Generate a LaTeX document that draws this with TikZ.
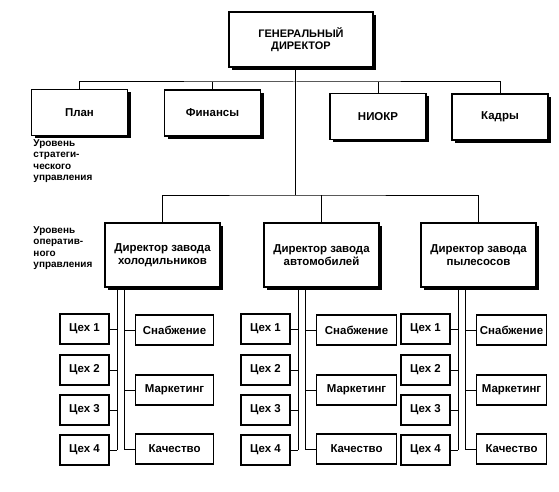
\documentclass[tikz,border=0pt]{standalone}
\usepackage{fontspec}
\setmainfont{Liberation Sans}
\usetikzlibrary{shadows, calc}

\begin{document}
\begin{tikzpicture}[x=1bp, y=-1bp, line width=1pt, line cap=butt, line join=miter,
    unitbox/.style={draw, line width=1.2pt, fill=white, align=center, inner sep=0pt,
        font=\fontsize{11.5}{13.5}\selectfont\bfseries,
        drop shadow={shadow xshift=3bp, shadow yshift=-3bp, opacity=1, fill=black}},
    topbox/.style={unitbox, minimum width=144bp, minimum height=55bp,
        font=\fontsize{11}{12.5}\selectfont\bfseries},
    staffbox/.style={unitbox, minimum width=96bp, minimum height=46bp},
    plantbox/.style={unitbox, minimum width=115bp, minimum height=64bp},
    shopbox/.style={draw, line width=1.1pt, fill=white, inner sep=0pt,
        font=\fontsize{11.5}{13}\selectfont\bfseries, minimum width=49bp, minimum height=30bp},
    servbox/.style={shopbox, minimum width=#1},
    levelnote/.style={anchor=north west, align=left, inner sep=0pt,
        font=\fontsize{10}{11.5}\selectfont\bfseries}]

    % page frame (559 x 492)
    \useasboundingbox (0,0) rectangle (559,492);

    % general director
    \node[topbox] (gd) at (301,39.5) {ГЕНЕРАЛЬНЫЙ\\ДИРЕКТОР};

    % strategic level: staff services
    \node[staffbox] (plan)  at (79.5,112.5) {План};
    \node[staffbox] (fin)   at (212.5,113)  {Финансы};
    \node[staffbox] (niokr) at (378,116.5)  {НИОКР};
    \node[staffbox] (kadry) at (500,117)    {Кадры};

    % upper bus and trunk
    \coordinate (bus) at (295,82);
    \coordinate (trunk) at (295,195);
    \draw (plan.north) |- (bus) -| (kadry.north);
    \draw (fin.north) -- (fin.north |- bus);
    \draw (niokr.north) -- (niokr.north |- bus);
    \draw (gd.south -| trunk) -- (trunk);

    % level notes
    \node[levelnote] (lvlstrat) at (33,139) {Уровень\\стратеги-\\ческого\\управления};
    \node[levelnote] (lvloper)  at (33,226) {Уровень\\оператив-\\ного\\управления};

    % operative level: plant directors
    \node[plantbox] (d1) at (162.5,255) {Директор завода\\холодильников};
    \node[plantbox] (d2) at (321.5,255) {Директор завода\\автомобилей};
    \node[plantbox] (d3) at (478.5,255) {Директор завода\\пылесосов};

    % lower bus
    \draw (d1.north) |- (trunk) -| (d3.north);
    \draw (d2.north) -- (d2.north |- trunk);

    % shops and services under each plant
    % \p = plant, \xl = x of the shop line, \ws = width of service boxes
    \foreach \p/\xl/\ws in {1/117/78bp, 2/298/80bp, 3/458/70bp}{
        \coordinate (la\p) at (\xl,450);
        \coordinate (lb\p) at (\xl+7,449);
        \draw (d\p.south -| la\p) -- (la\p);
        \draw (d\p.south -| lb\p) -- (lb\p);
        % shops
        \foreach \k/\yy in {1/329, 2/370, 3/410, 4/450}{
            \node[shopbox] (c\p-\k) at (\xl-32.5,\yy) {Цех \k};
            \draw (c\p-\k.east) -- (c\p-\k.east -| la\p);
        }
        % services
        \node[servbox=\ws, anchor=west] (v\p-1) at (\xl+18,330) {Снабжение};
        \node[servbox=\ws, anchor=west] (v\p-2) at (\xl+18,390) {Маркетинг};
        \node[servbox=\ws, anchor=west] (v\p-3) at (\xl+18,449) {Качество};
        \foreach \k in {1,2,3}{
            \draw (lb\p |- v\p-\k.west) -- (v\p-\k.west);
        }
    }

\end{tikzpicture}
\end{document}
